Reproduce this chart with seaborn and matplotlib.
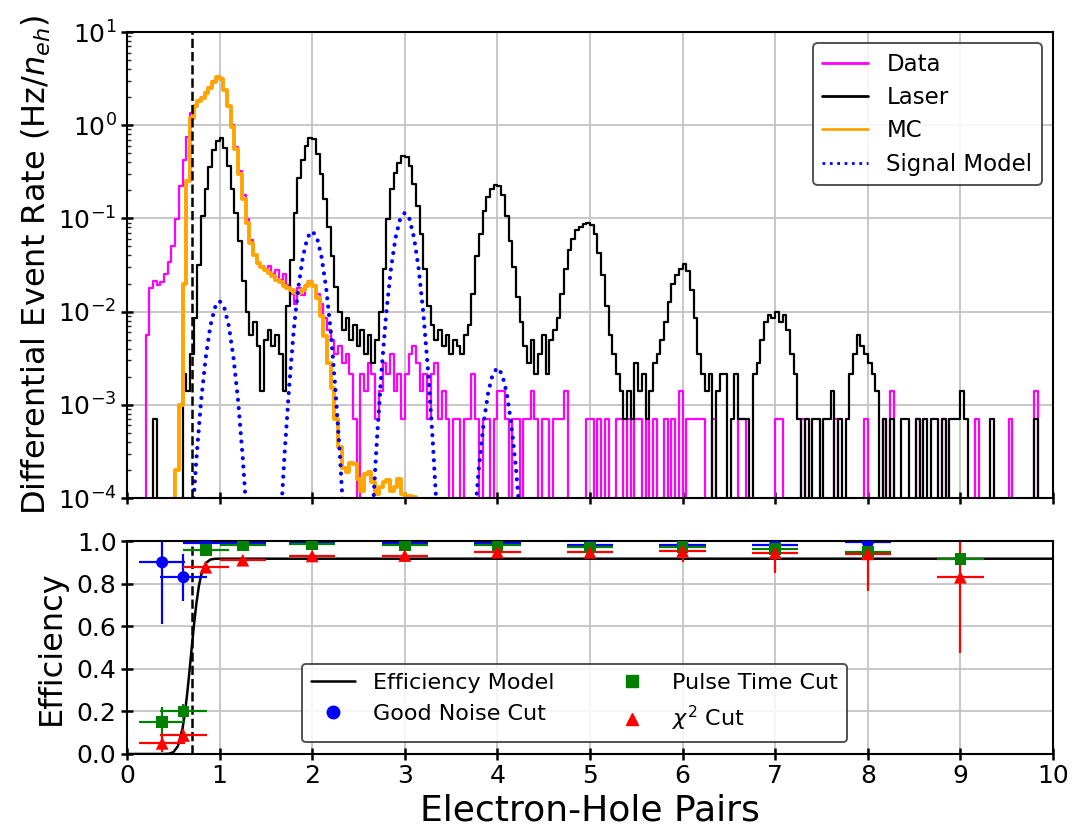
import numpy as np
import matplotlib
matplotlib.use("Agg")
import matplotlib.pyplot as plt
from matplotlib.lines import Line2D
from matplotlib.ticker import LogLocator, NullFormatter
import seaborn as sns

sns.set_style("whitegrid", {"axes.edgecolor": "black", "grid.color": "#c4c4c4",
                            "axes.labelcolor": "black", "text.color": "black"})
plt.rcParams["font.family"] = ["DejaVu Sans"]
plt.rcParams["mathtext.fontset"] = "dejavusans"

# ---- spectrum histograms: 250 bins of 0.04 e-h pairs between 0 and 10 ----
bin_lo, bin_hi, n_bins = 0.0, 10.0, 250
rate_per_count = 7.1e-4  # Hz/n_eh for one event in a bin
threshold = 0.7

# events per bin, read bin by bin (10 bins per row)
data_counts = [
    0, 0, 0, 0, 0, 8, 25, 30, 27, 29,
    36, 48, 72, 140, 310, 590, 1060, 1900, 2300, 2580,
    2800, 3200, 3650, 4200, 4650, 4480, 3380, 2250, 1400, 830,
    460, 250, 140, 82, 57, 46, 43, 40, 44, 36,
    39, 31, 36, 27, 22, 17, 25, 21, 27, 30,
    27, 22, 17, 12, 9, 7, 5, 6, 4, 5,
    3, 1, 0, 3, 2, 4, 3, 1, 2, 4,
    3, 5, 2, 3, 1, 3, 5, 6, 4, 2,
    3, 1, 3, 4, 1, 2, 1, 0, 1, 1,
    0, 1, 1, 3, 1, 0, 1, 1, 0, 1,
    2, 2, 1, 0, 1, 1, 0, 1, 1, 2,
    1, 0, 1, 1, 0, 1, 1, 1, 2, 0,
    0, 0, 0, 0, 1, 1, 0, 1, 0, 1,
    0, 0, 1, 1, 0, 1, 0, 1, 1, 0,
    1, 0, 1, 0, 0, 1, 0, 1, 0, 2,
    0, 1, 1, 1, 1, 1, 0, 0, 1, 0,
    0, 0, 0, 0, 0, 1, 1, 0, 0, 0,
    0, 0, 0, 0, 0, 1, 1, 0, 0, 0,
    0, 0, 1, 0, 0, 0, 0, 0, 0, 0,
    0, 1, 0, 0, 0, 0, 0, 0, 0, 1,
    0, 0, 0, 0, 1, 0, 2, 0, 0, 0,
    0, 0, 0, 1, 0, 0, 0, 0, 0, 0,
    1, 0, 0, 0, 0, 0, 0, 0, 0, 1,
    0, 0, 0, 0, 0, 0, 0, 0, 1, 0,
    0, 0, 0, 0, 0, 2, 0, 0, 0, 0,
]

laser_counts = [
    0, 0, 0, 0, 0, 0, 0, 1, 0, 0,
    0, 0, 0, 0, 0, 3, 2, 5, 12, 45,
    150, 290, 500, 760, 950, 1030, 800, 520, 290, 160,
    80, 30, 14, 8, 11, 6, 2, 7, 9, 6,
    8, 5, 2, 16, 50, 160, 380, 600, 840, 1020,
    1000, 700, 420, 230, 115, 55, 26, 14, 9, 12,
    7, 10, 6, 9, 5, 8, 4, 7, 14, 40,
    140, 290, 430, 560, 660, 650, 520, 330, 190, 95,
    40, 16, 10, 7, 9, 6, 8, 5, 7, 6,
    5, 8, 10, 22, 55, 95, 170, 240, 290, 320,
    310, 250, 150, 80, 42, 20, 11, 6, 4, 7,
    3, 5, 8, 3, 7, 9, 12, 22, 40, 65,
    85, 105, 115, 122, 125, 120, 95, 60, 35, 16,
    8, 5, 3, 2, 1, 2, 1, 4, 2, 3,
    1, 2, 4, 5, 7, 11, 18, 28, 35, 40,
    46, 38, 24, 12, 5, 3, 2, 3, 0, 2,
    3, 3, 0, 1, 3, 1, 1, 1, 0, 3,
    4, 7, 11, 13, 12, 14, 11, 13, 9, 5,
    3, 1, 0, 1, 0, 1, 1, 0, 1, 1,
    2, 0, 1, 0, 1, 3, 5, 8, 6, 5,
    4, 3, 2, 0, 1, 0, 1, 0, 0, 1,
    1, 0, 0, 1, 0, 1, 0, 1, 1, 0,
    1, 0, 1, 1, 1, 2, 1, 0, 0, 0,
    0, 0, 0, 1, 0, 0, 0, 0, 0, 0,
    0, 0, 0, 0, 0, 1, 0, 0, 0, 0,
]

# MC rate (Hz/n_eh), bins 13..77 (0.52 to 3.12 e-h pairs)
mc_start_bin = 13
mc_rate = [
    2e-4, 1e-3, 0.02, 0.25, 1.2, 1.6, 1.8, 1.95, 2.2, 2.5,
    2.9, 3.25, 3.15, 2.4, 1.6, 0.95, 0.55, 0.3, 0.16, 0.09,
    0.055, 0.04, 0.033, 0.030, 0.028, 0.026, 0.024, 0.022, 0.021, 0.019,
    0.018, 0.017, 0.016, 0.0158, 0.017, 0.019, 0.021, 0.019, 0.014, 0.009,
    0.0055, 0.0028, 0.0015, 7e-4, 3.5e-4, 2.1e-4, 1.9e-4, 2.4e-4, 2.3e-4, 1.6e-4,
    1.2e-4, 1.8e-4, 1.9e-4, 1.5e-4, 1.1e-4, 1.3e-4, 1.5e-4, 1.55e-4, 1.2e-4, 1.3e-4,
    1.6e-4, 1.1e-4, 1.05e-4, 1.05e-4, 1.03e-4,
]

# signal model curve (Hz/n_eh)
signal_x = [
    0.60, 0.65, 0.70, 0.75, 0.80, 0.85, 0.90, 0.95, 1.00, 1.05,
    1.10, 1.15, 1.20, 1.25, 1.30, 1.35, 1.40, 1.45, 1.50, 1.55,
    1.60, 1.65, 1.70, 1.75, 1.80, 1.85, 1.90, 1.95, 2.00, 2.05,
    2.10, 2.15, 2.20, 2.25, 2.30, 2.35, 2.40, 2.45, 2.50, 2.55,
    2.60, 2.65, 2.70, 2.75, 2.80, 2.85, 2.90, 2.95, 3.00, 3.05,
    3.10, 3.15, 3.20, 3.25, 3.30, 3.35, 3.40, 3.45, 3.50, 3.55,
    3.60, 3.65, 3.70, 3.75, 3.80, 3.85, 3.90, 3.95, 4.00, 4.05,
    4.10, 4.15, 4.20, 4.25, 4.30, 4.35, 4.40,
]
signal_y = [
    7e-7, 7e-6, 5e-5, 2.7e-4, 1.1e-3, 3.2e-3, 7.0e-3, 1.11e-2, 1.30e-2, 1.11e-2,
    7.0e-3, 3.2e-3, 1.1e-3, 2.7e-4, 5e-5, 7e-6, 7e-7, 6e-8, 2e-8, 2.7e-7,
    3.7e-6, 3.8e-5, 2.8e-4, 1.5e-3, 6.2e-3, 1.82e-2, 3.9e-2, 6.3e-2, 7.3e-2, 6.3e-2,
    3.9e-2, 1.82e-2, 6.2e-3, 1.5e-3, 2.8e-4, 3.8e-5, 3.7e-6, 2.7e-7, 4e-8, 4.3e-7,
    5.9e-6, 6.0e-5, 4.4e-4, 2.4e-3, 9.7e-3, 2.86e-2, 6.2e-2, 9.9e-2, 1.15e-1, 9.9e-2,
    6.2e-2, 2.86e-2, 9.7e-3, 2.4e-3, 4.4e-4, 6.0e-5, 5.9e-6, 4.3e-7, 2e-8, 9e-9,
    1.3e-7, 1.3e-6, 9.6e-6, 5.3e-5, 2.1e-4, 6.2e-4, 1.35e-3, 2.14e-3, 2.5e-3, 2.14e-3,
    1.35e-3, 6.2e-4, 2.1e-4, 5.3e-5, 9.6e-6, 1.3e-6, 1.3e-7,
]

# ---- efficiency panel ----
effmodel_x = [0.0, 0.30, 0.40, 0.45, 0.50, 0.55, 0.60, 0.625, 0.65, 0.675,
              0.70, 0.725, 0.75, 0.775, 0.80, 0.85, 0.90, 0.95, 1.0, 10.0]
effmodel_y = [0.0, 0.0, 0.0001, 0.0012, 0.008, 0.037, 0.12, 0.191, 0.283, 0.390,
              0.504, 0.614, 0.709, 0.785, 0.839, 0.896, 0.913, 0.9165, 0.917, 0.917]

cut_x = [0.38, 0.61, 0.85, 1.25, 2, 3, 4, 5, 6, 7, 8, 9]
cut_xerr = 0.25

noise_x = [0.38, 0.61, 0.85, 1.25, 2, 3, 4, 5, 6, 7, 8]
noise_y = [0.90, 0.83, 0.99, 0.99, 0.99, 0.99, 0.99, 0.982, 0.982, 0.982, 0.995]
noise_err_lo = [0.29, 0.11, 0.01, 0.01, 0.01, 0.01, 0.01, 0.01, 0.01, 0.015, 0.01]
noise_err_hi = [0.10, 0.11, 0.01, 0.01, 0.01, 0.01, 0.01, 0.01, 0.01, 0.015, 0.01]

pulse_y = [0.15, 0.20, 0.957, 0.98, 0.984, 0.98, 0.98, 0.97, 0.972, 0.963, 0.95, 0.915]
pulse_err = [0.07, 0.035, 0.02, 0.01, 0.01, 0.01, 0.01, 0.01, 0.01, 0.015, 0.02, 0.01]

chi2_y = [0.05, 0.087, 0.877, 0.91, 0.93, 0.932, 0.948, 0.947, 0.953, 0.945, 0.94, 0.83]
chi2_err_lo = [0.04, 0.03, 0.015, 0.012, 0.012, 0.012, 0.012, 0.015, 0.05, 0.095, 0.175, 0.355]
chi2_err_hi = [0.04, 0.03, 0.015, 0.012, 0.012, 0.012, 0.012, 0.015, 0.04, 0.045, 0.06, 0.17]

edges = np.linspace(bin_lo, bin_hi, n_bins + 1)
centers = 0.5 * (edges[:-1] + edges[1:])
data_rate = np.array(data_counts) * rate_per_count
laser_rate = np.array(laser_counts) * rate_per_count
mc_full = np.zeros(n_bins)
mc_full[mc_start_bin:mc_start_bin + len(mc_rate)] = mc_rate

fig = plt.figure(figsize=(10.79, 8.27), dpi=100)
ax1 = fig.add_axes([0.1177, 0.3978, 0.8582, 0.5635])
ax2 = fig.add_axes([0.1177, 0.0883, 0.8582, 0.2575])

hist_kw = dict(bins=list(edges), element="step", fill=False, ax=ax1)
sns.histplot(x=list(centers), weights=list(data_rate), color="magenta", linewidth=1.6, **hist_kw)
sns.histplot(x=list(centers), weights=list(laser_rate), color="black", linewidth=1.6, **hist_kw)
sns.histplot(x=list(centers), weights=list(mc_full), color="orange", linewidth=2.8, **hist_kw)
sns.lineplot(x=signal_x, y=signal_y, color="blue", linestyle=(0, (0.01, 2.0)),
             linewidth=3.0, dash_capstyle="round", estimator=None, ax=ax1)
ax1.axvline(threshold, color="black", linestyle="--", linewidth=1.8)

ax1.set_yscale("log")
ax1.set_ylim(1e-4, 10)
ax1.set_xlim(0, 10)
ax1.set_xticks(range(0, 11))
ax1.yaxis.set_minor_locator(LogLocator(base=10, subs=np.arange(2, 10)))
ax1.yaxis.set_minor_formatter(NullFormatter())
ax1.tick_params(labelbottom=False)
ax1.set_xlabel("")
ax1.set_ylabel("Differential Event Rate (Hz/$n_{eh}$)", fontsize=23, color="black")
ax1.yaxis.set_label_coords(-0.080, 0.5)

top_handles = [
    Line2D([], [], color="magenta", lw=2),
    Line2D([], [], color="black", lw=2),
    Line2D([], [], color="orange", lw=2),
    Line2D([], [], color="blue", lw=2, linestyle=":"),
]
leg1 = ax1.legend(top_handles, ["Data", "Laser", "MC", "Signal Model"],
                  loc="upper right", fontsize=16.5, labelspacing=0.45,
                  fancybox=True, framealpha=0.85, labelcolor="black")
leg1.get_frame().set_edgecolor("#333333")
leg1.get_frame().set_linewidth(1.4)

# efficiency panel
sns.lineplot(x=effmodel_x, y=effmodel_y, color="black", linewidth=1.8,
             estimator=None, ax=ax2)
ax2.axvline(threshold, color="black", linestyle="--", linewidth=1.8)

ax2.errorbar(noise_x, noise_y, xerr=cut_xerr, yerr=[noise_err_lo, noise_err_hi],
             fmt="none", ecolor="blue", elinewidth=1.6)
sns.scatterplot(x=noise_x, y=noise_y, color="blue", marker="o", s=75,
                edgecolor="none", ax=ax2, zorder=3)
ax2.errorbar(cut_x, pulse_y, xerr=cut_xerr, yerr=pulse_err,
             fmt="none", ecolor="green", elinewidth=1.6)
sns.scatterplot(x=cut_x, y=pulse_y, color="green", marker="s", s=70,
                edgecolor="none", ax=ax2, zorder=3)
ax2.errorbar(cut_x, chi2_y, xerr=cut_xerr, yerr=[chi2_err_lo, chi2_err_hi],
             fmt="none", ecolor="red", elinewidth=1.6)
sns.scatterplot(x=cut_x, y=chi2_y, color="red", marker="^", s=85,
                edgecolor="none", ax=ax2, zorder=3)

ax2.set_xlim(0, 10)
ax2.set_ylim(0, 1.0)
ax2.set_xticks(range(0, 11))
ax2.set_yticks([0.0, 0.2, 0.4, 0.6, 0.8, 1.0])
ax2.set_yticklabels(["0.0", "0.2", "0.4", "0.6", "0.8", "1.0"])
ax2.set_xlabel("Electron-Hole Pairs", fontsize=26, color="black")
ax2.set_ylabel("Efficiency", fontsize=23, color="black")
ax2.yaxis.set_label_coords(-0.065, 0.5)

bottom_handles = [
    Line2D([], [], color="black", lw=1.8),
    Line2D([], [], color="blue", marker="o", linestyle="none", markersize=9),
    Line2D([], [], color="green", marker="s", linestyle="none", markersize=8),
    Line2D([], [], color="red", marker="^", linestyle="none", markersize=9),
]
leg2 = ax2.legend(bottom_handles,
                  ["Efficiency Model", "Good Noise Cut", "Pulse Time Cut", "$\\chi^2$ Cut"],
                  ncol=2, loc="lower left", bbox_to_anchor=(0.189, 0.056),
                  borderaxespad=0, fontsize=16, labelspacing=0.5,
                  columnspacing=2.5, fancybox=True, framealpha=0.85,
                  labelcolor="black")
leg2.get_frame().set_edgecolor("#333333")
leg2.get_frame().set_linewidth(1.4)

for ax in (ax1, ax2):
    ax.grid(True, which="major", color="#c4c4c4", linewidth=1.3)
    ax.grid(False, which="minor")
    for sp in ax.spines.values():
        sp.set_color("black")
        sp.set_linewidth(1.5)
    ax.tick_params(which="major", direction="inout", length=8, width=1.8,
                   left=True, bottom=True, labelsize=18, colors="black")
    ax.tick_params(which="minor", direction="in", length=3, width=1,
                   left=True, bottom=False)

fig.savefig("out.png", dpi=100)
